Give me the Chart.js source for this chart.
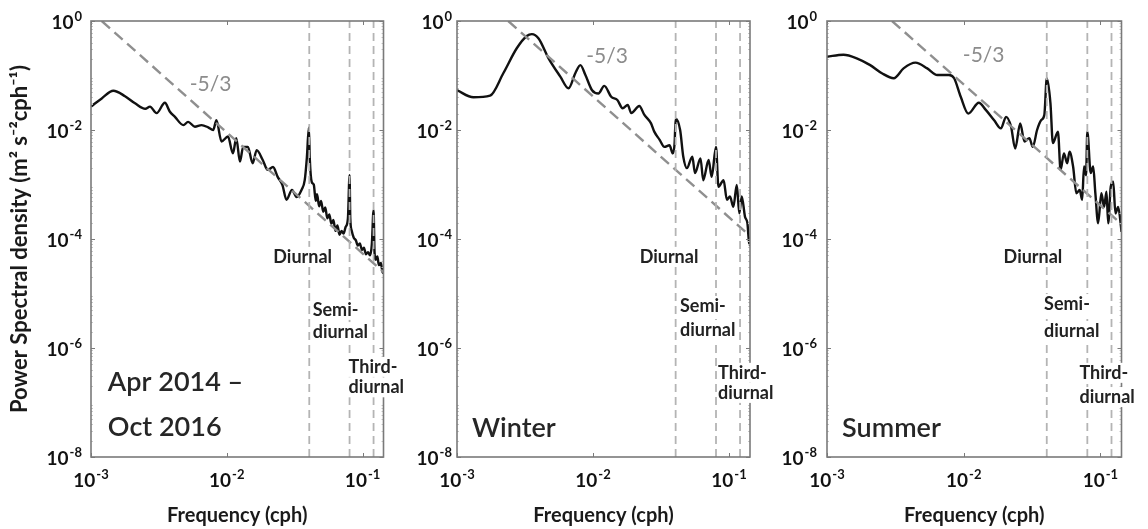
<!DOCTYPE html>
<html>
<head>
<meta charset="utf-8">
<script src="https://cdn.jsdelivr.net/npm/chart.js@4.4.1/dist/chart.umd.min.js"></script>
<style>
  html, body { margin: 0; padding: 0; background: #fff; }
  #wrap { position: relative; width: 1148px; height: 529px; overflow: hidden; }
  #wrap canvas { position: absolute; left: 0; top: 0; }
</style>
</head>
<body>
<div id="wrap">
  <canvas id="c1" width="1148" height="529"></canvas>
  <canvas id="c2" width="1148" height="529"></canvas>
  <canvas id="c3" width="1148" height="529"></canvas>
</div>
<script>
// axis ticks
const xTicks = [1e-3, 1e-2, 1e-1];
const yTicks = [1, 1e-2, 1e-4, 1e-6, 1e-8];
// diurnal, semi-diurnal, third-diurnal (cph)
const tideFreqs = [0.0405, 0.0802, 0.1205];

// Apr 2014 - Oct 2016
const freqAll = [1.00e-3, 1.20e-3, 1.46e-3, 1.78e-3, 2.11e-3, 2.51e-3, 2.72e-3, 3.04e-3, 3.50e-3, 3.80e-3,
  4.15e-3, 4.79e-3, 5.19e-3, 5.82e-3, 6.52e-3, 7.29e-3, 7.94e-3, 8.39e-3, 9.14e-3, 1.02e-2,
  1.11e-2, 1.175e-2, 1.25e-2, 1.32e-2, 1.43e-2, 1.55e-2, 1.66e-2, 1.84e-2, 2.00e-2, 2.19e-2,
  2.37e-2, 2.57e-2, 2.75e-2, 3.02e-2, 3.27e-2, 3.55e-2, 3.75e-2, 3.89e-2, 4.02e-2, 4.09e-2,
  4.22e-2, 4.37e-2, 4.52e-2, 4.62e-2, 4.79e-2, 4.95e-2, 5.13e-2, 5.31e-2, 5.50e-2, 5.69e-2,
  5.89e-2, 6.10e-2, 6.31e-2, 6.53e-2, 6.76e-2, 7.00e-2, 7.24e-2, 7.50e-2, 7.80e-2, 8.02e-2,
  8.12e-2, 8.32e-2, 8.61e-2, 8.91e-2, 9.23e-2, 9.55e-2, 9.89e-2, 1.023e-1, 1.059e-1, 1.096e-1,
  1.135e-1, 1.170e-1, 1.205e-1, 1.225e-1, 1.250e-1, 1.285e-1, 1.318e-1, 1.365e-1, 1.406e-1, 1.426e-1];
const psdAll = [2.69e-2, 3.80e-2, 5.25e-2, 4.17e-2, 3.09e-2, 2.45e-2, 2.69e-2, 2.04e-2, 3.16e-2, 2.19e-2,
  1.74e-2, 1.23e-2, 1.41e-2, 1.15e-2, 1.23e-2, 1.12e-2, 1.00e-2, 1.51e-2, 6.17e-3, 7.59e-3,
  3.72e-3, 7.08e-3, 2.63e-3, 4.90e-3, 4.90e-3, 2.45e-3, 4.27e-3, 2.82e-3, 1.86e-3, 2.09e-3,
  1.38e-3, 9.77e-4, 5.25e-4, 7.94e-4, 5.89e-4, 7.94e-4, 1.20e-3, 3.16e-3, 1.10e-2, 2.82e-3,
  1.12e-3, 1.00e-3, 5.01e-4, 6.61e-4, 3.98e-4, 5.01e-4, 3.16e-4, 3.80e-4, 2.40e-4, 2.82e-4,
  1.91e-4, 2.24e-4, 1.41e-4, 1.78e-4, 1.20e-4, 1.41e-4, 1.26e-4, 1.66e-4, 2.40e-4, 1.48e-3,
  2.40e-4, 1.41e-4, 1.05e-4, 9.55e-5, 7.59e-5, 8.32e-5, 6.31e-5, 6.92e-5, 5.25e-5, 5.75e-5,
  5.01e-5, 7.94e-5, 3.39e-4, 5.62e-5, 4.17e-5, 4.79e-5, 3.31e-5, 3.63e-5, 2.40e-5, 2.63e-5];
const slopeFreqAll = [1.20e-3, 0.1426];
const slopePsdAll = [1, 2.47e-5];

// Winter
const freqWinter = [1.00e-3, 1.32e-3, 1.75e-3, 2.19e-3, 2.75e-3, 3.26e-3, 3.55e-3, 3.98e-3, 4.70e-3, 5.75e-3,
  6.61e-3, 7.41e-3, 8.07e-3, 8.79e-3, 9.84e-3, 1.096e-2, 1.21e-2, 1.36e-2, 1.51e-2, 1.65e-2,
  1.80e-2, 1.91e-2, 2.19e-2, 2.38e-2, 2.67e-2, 2.82e-2, 3.09e-2, 3.35e-2, 3.65e-2, 3.86e-2,
  3.98e-2, 4.05e-2, 4.37e-2, 4.61e-2, 4.90e-2, 5.37e-2, 5.62e-2, 6.17e-2, 6.46e-2, 7.08e-2,
  7.45e-2, 8.02e-2, 8.36e-2, 9.12e-2, 9.64e-2, 1.016e-1, 1.076e-1, 1.14e-1, 1.19e-1, 1.24e-1,
  1.31e-1, 1.365e-1, 1.41e-1, 1.426e-1];
const psdWinter = [5.37e-2, 3.98e-2, 4.27e-2, 0.110, 0.316, 0.531, 0.575, 0.479, 0.209, 9.55e-2,
  5.82e-2, 0.110, 0.155, 0.102, 5.37e-2, 4.68e-2, 6.46e-2, 4.07e-2, 3.55e-2, 2.51e-2,
  2.88e-2, 2.04e-2, 2.75e-2, 1.91e-2, 1.32e-2, 9.33e-3, 6.61e-3, 4.90e-3, 5.25e-3, 3.72e-3,
  5.75e-3, 1.62e-2, 1.00e-2, 3.24e-3, 2.00e-3, 3.24e-3, 1.62e-3, 3.02e-3, 1.20e-3, 2.82e-3,
  1.38e-3, 4.90e-3, 9.12e-4, 1.20e-3, 5.25e-4, 6.03e-4, 3.89e-4, 9.77e-4, 2.95e-4, 6.03e-4,
  2.57e-4, 1.95e-4, 7.76e-5, 1.12e-4];
const slopeFreqWinter = [2.38e-3, 0.1426];
const slopePsdWinter = [1, 1.14e-4];

// Summer
const freqSummer = [1.00e-3, 1.32e-3, 1.65e-3, 2.07e-3, 2.52e-3, 3.08e-3, 3.63e-3, 4.44e-3, 5.41e-3, 6.41e-3,
  7.80e-3, 8.51e-3, 9.51e-3, 1.08e-2, 1.29e-2, 1.45e-2, 1.67e-2, 1.87e-2, 2.04e-2, 2.22e-2,
  2.38e-2, 2.59e-2, 2.78e-2, 3.02e-2, 3.20e-2, 3.44e-2, 3.68e-2, 3.89e-2, 4.05e-2, 4.31e-2,
  4.49e-2, 4.89e-2, 5.11e-2, 5.41e-2, 5.71e-2, 5.94e-2, 6.31e-2, 6.67e-2, 7.05e-2, 7.35e-2,
  7.59e-2, 7.85e-2, 8.02e-2, 8.49e-2, 8.85e-2, 9.18e-2, 9.62e-2, 1.016e-1, 1.064e-1, 1.107e-1,
  1.140e-1, 1.19e-1, 1.24e-1, 1.288e-1, 1.349e-1, 1.413e-1, 1.426e-1];
const psdSummer = [0.221, 0.240, 0.207, 0.155, 0.110, 8.91e-2, 0.135, 0.172, 0.135, 0.102,
  0.102, 8.91e-2, 4.07e-2, 2.00e-2, 3.16e-2, 2.34e-2, 1.51e-2, 1.07e-2, 1.74e-2, 1.15e-2,
  4.57e-3, 1.32e-2, 6.17e-3, 7.08e-3, 4.90e-3, 1.00e-2, 1.51e-2, 1.91e-2, 8.91e-2, 3.09e-2,
  5.75e-3, 9.33e-3, 1.86e-3, 3.72e-3, 2.45e-3, 3.98e-3, 2.14e-3, 6.92e-4, 7.94e-4, 5.25e-4,
  2.14e-3, 1.48e-3, 9.33e-3, 1.62e-3, 2.14e-3, 6.92e-4, 1.95e-4, 6.92e-4, 3.89e-4, 7.41e-4,
  1.95e-4, 9.12e-4, 1.12e-3, 2.95e-4, 3.89e-4, 1.70e-4, 1.35e-4];
const slopeFreqSummer = [2.99e-3, 0.1426];
const slopePsdSummer = [1, 1.88e-4];

const FONT = 'Lato';
const LABEL = 'bold 18px ' + FONT;
const TITLE = '600 27px ' + FONT;
const SLOPE = '21px ' + FONT;

function toPoints(fs, ps) {
  return fs.map((f, i) => ({x: f, y: ps[i]}));
}

// "10" with a raised exponent, centred (x axis) or right aligned (y axis)
function drawPow10(ctx, v, x, y, align) {
  var e = String(Math.round(Math.log10(v)));
  ctx.font = 'bold 19px ' + FONT;
  var wb = ctx.measureText('10').width;
  ctx.font = 'bold 13px ' + FONT;
  var we = ctx.measureText(e).width;
  var total = wb + 1 + we;
  var x0 = align === 'right' ? x - total : x - total / 2;
  ctx.textAlign = 'left';
  ctx.textBaseline = 'alphabetic';
  ctx.fillStyle = '#111';
  ctx.font = 'bold 19px ' + FONT;
  ctx.fillText('10', x0, y + 7);
  ctx.font = 'bold 13px ' + FONT;
  ctx.fillText(e, x0 + wb + 1, y - 1);
}

const framePlugin = {
  id: 'frame',
  afterDatasetsDraw(chart) {
    const {ctx, chartArea: a, scales: {x, y}} = chart;
    ctx.save();
    ctx.strokeStyle = '#7a7a7a';
    ctx.lineWidth = 1;
    ctx.beginPath();
    x.ticks.forEach(t => {
      var px = Math.round(x.getPixelForValue(t.value)) + 0.5;
      ctx.moveTo(px, a.bottom); ctx.lineTo(px, a.bottom - 4);
      ctx.moveTo(px, a.top); ctx.lineTo(px, a.top + 4);
    });
    y.ticks.forEach(t => {
      var py = Math.round(y.getPixelForValue(t.value)) + 0.5;
      ctx.moveTo(a.left, py); ctx.lineTo(a.left + 4, py);
      ctx.moveTo(a.right, py); ctx.lineTo(a.right - 4, py);
    });
    ctx.stroke();
    ctx.strokeStyle = '#c8c8c8';
    ctx.beginPath();
    for (var k = -8; k < 0; k++) {
      for (var m = 2; m < 10; m++) {
        var py = Math.round(y.getPixelForValue(m * Math.pow(10, k))) + 0.5;
        ctx.moveTo(a.left, py); ctx.lineTo(a.left + 2, py);
        ctx.moveTo(a.right, py); ctx.lineTo(a.right - 2, py);
      }
    }
    ctx.stroke();
    ctx.strokeStyle = '#7a7a7a';
    ctx.lineWidth = 1.6;
    ctx.strokeRect(a.left, a.top, a.right - a.left, a.bottom - a.top);

    // tick labels from the scales' own ticks
    x.ticks.forEach(t => drawPow10(ctx, t.value, x.getPixelForValue(t.value), a.bottom + 23, 'center'));
    var pad = chart.options.scales.y.ticks.padding;
    y.ticks.forEach(t => drawPow10(ctx, t.value, a.left - pad, y.getPixelForValue(t.value) + 1, 'right'));
    ctx.restore();
  }
};

function notesPlugin(notes) {
  return {
    id: 'notes',
    afterDraw(chart) {
      const {ctx, scales: {x, y}} = chart;
      ctx.save();
      notes.forEach(n => {
        ctx.font = n.font;
        ctx.textAlign = n.align;
        ctx.textBaseline = 'middle';
        var px = x.getPixelForValue(n.f);
        var py = y.getPixelForValue(n.p);
        if (n.box) {
          var w = ctx.measureText(n.text).width;
          var x0 = n.align === 'left' ? px : (n.align === 'center' ? px - w / 2 : px - w);
          ctx.fillStyle = '#fff';
          ctx.fillRect(x0 - 1, py - 10, w + 2, 20);
        }
        ctx.fillStyle = n.color;
        ctx.fillText(n.text, px, py);
      });
      ctx.restore();
    }
  };
}

function makeChart(id, cfg) {
  var datasets = [];
  tideFreqs.forEach(f => {
    datasets.push({data: [{x: f, y: 1e-8}, {x: f, y: 1}], showLine: true, borderColor: '#b4b4b4',
      borderWidth: 1.8, borderDash: [8, 5], pointRadius: 0});
  });
  datasets.push({data: toPoints(cfg.slopeF, cfg.slopeP), showLine: true, borderColor: '#8f8f8f',
    borderWidth: 2.4, borderDash: [11, 6], pointRadius: 0});
  datasets.push({data: toPoints(cfg.freq, cfg.psd), showLine: true, borderColor: '#111',
    borderWidth: 2.4, pointRadius: 0, cubicInterpolationMode: 'monotone'});

  return new Chart(document.getElementById(id), {
    type: 'scatter',
    data: {datasets: datasets},
    options: {
      responsive: false,
      animation: false,
      devicePixelRatio: 1,
      plugins: {legend: {display: false}, tooltip: {enabled: false}},
      layout: {padding: {left: cfg.padL, right: cfg.padR, top: 21, bottom: 0}},
      scales: {
        x: {
          type: 'logarithmic', min: 1e-3, max: 0.1426,
          afterBuildTicks: s => { s.ticks = xTicks.map(v => ({value: v})); },
          afterFit: s => { s.height = 72; },
          grid: {display: false, drawTicks: false},
          border: {display: false},
          ticks: {display: false},
          title: {display: true, text: 'Frequency (cph)', color: '#1a1a1a', padding: {top: 0, bottom: 1},
            font: {family: FONT, size: 20, weight: 'bold'}}
        },
        y: {
          type: 'logarithmic', min: 1e-8, max: 1,
          afterBuildTicks: s => { s.ticks = yTicks.map(v => ({value: v})); },
          afterFit: s => { s.width = cfg.yWidth; },
          grid: {display: false, drawTicks: false},
          border: {display: false},
          ticks: {display: false, padding: cfg.yPad},
          title: {display: cfg.yTitle, text: 'Power Spectral density (m\u00B2 s\u207B\u00B2cph\u207B\u00B9)',
            color: '#1a1a1a', padding: {top: 7, bottom: 0},
            font: {family: FONT, size: 22, weight: 'bold'}}
        }
      }
    },
    plugins: [framePlugin, notesPlugin(cfg.notes)]
  });
}

makeChart('c1', {
  freq: freqAll, psd: psdAll, slopeF: slopeFreqAll, slopeP: slopePsdAll,
  padL: 0, yWidth: 91, padR: 764.5, yPad: 9, yTitle: true,
  notes: [
    {text: '-5/3', f: 7.6e-3, p: 7.0e-2, align: 'center', font: SLOPE, color: '#8c8c8c'},
    {text: 'Diurnal', f: 3.62e-2, p: 4.7e-5, align: 'center', font: LABEL, color: '#222', box: true},
    {text: 'Semi-', f: 4.29e-2, p: 5.0e-6, align: 'left', font: LABEL, color: '#222', box: true},
    {text: 'diurnal', f: 4.29e-2, p: 1.96e-6, align: 'left', font: LABEL, color: '#222', box: true},
    {text: 'Third-', f: 7.89e-2, p: 4.5e-7, align: 'left', font: LABEL, color: '#222', box: true},
    {text: 'diurnal', f: 7.89e-2, p: 1.9e-7, align: 'left', font: LABEL, color: '#222', box: true},
    {text: 'Apr 2014 \u2013', f: 1.33e-3, p: 2.3e-7, align: 'left', font: TITLE, color: '#262626'},
    {text: 'Oct 2016', f: 1.33e-3, p: 3.5e-8, align: 'left', font: TITLE, color: '#262626'}
  ]
});

makeChart('c2', {
  freq: freqWinter, psd: psdWinter, slopeF: slopeFreqWinter, slopeP: slopePsdWinter,
  padL: 397, yWidth: 60, padR: 398, yPad: 5, yTitle: false,
  notes: [
    {text: '-5/3', f: 1.27e-2, p: 0.228, align: 'center', font: SLOPE, color: '#8c8c8c'},
    {text: 'Diurnal', f: 3.62e-2, p: 4.7e-5, align: 'center', font: LABEL, color: '#222', box: true},
    {text: 'Semi-', f: 4.36e-2, p: 5.9e-6, align: 'left', font: LABEL, color: '#222', box: true},
    {text: 'diurnal', f: 4.36e-2, p: 2.14e-6, align: 'left', font: LABEL, color: '#222', box: true},
    {text: 'Third-', f: 8.3e-2, p: 3.5e-7, align: 'left', font: LABEL, color: '#222', box: true},
    {text: 'diurnal', f: 8.3e-2, p: 1.5e-7, align: 'left', font: LABEL, color: '#222', box: true},
    {text: 'Winter', f: 1.29e-3, p: 3.4e-8, align: 'left', font: TITLE, color: '#262626'}
  ]
});

makeChart('c3', {
  freq: freqSummer, psd: psdSummer, slopeF: slopeFreqSummer, slopeP: slopePsdSummer,
  padL: 767, yWidth: 60, padR: 26.5, yPad: 10, yTitle: false,
  notes: [
    {text: '-5/3', f: 1.40e-2, p: 0.238, align: 'center', font: SLOPE, color: '#8c8c8c'},
    {text: 'Diurnal', f: 3.21e-2, p: 4.7e-5, align: 'center', font: LABEL, color: '#222', box: true},
    {text: 'Semi-', f: 3.87e-2, p: 6.4e-6, align: 'left', font: LABEL, color: '#222', box: true},
    {text: 'diurnal', f: 3.87e-2, p: 2.05e-6, align: 'left', font: LABEL, color: '#222', box: true},
    {text: 'Third-', f: 7.02e-2, p: 3.5e-7, align: 'left', font: LABEL, color: '#222', box: true},
    {text: 'diurnal', f: 7.02e-2, p: 1.26e-7, align: 'left', font: LABEL, color: '#222', box: true},
    {text: 'Summer', f: 1.29e-3, p: 3.4e-8, align: 'left', font: TITLE, color: '#262626'}
  ]
});
</script>
</body>
</html>
